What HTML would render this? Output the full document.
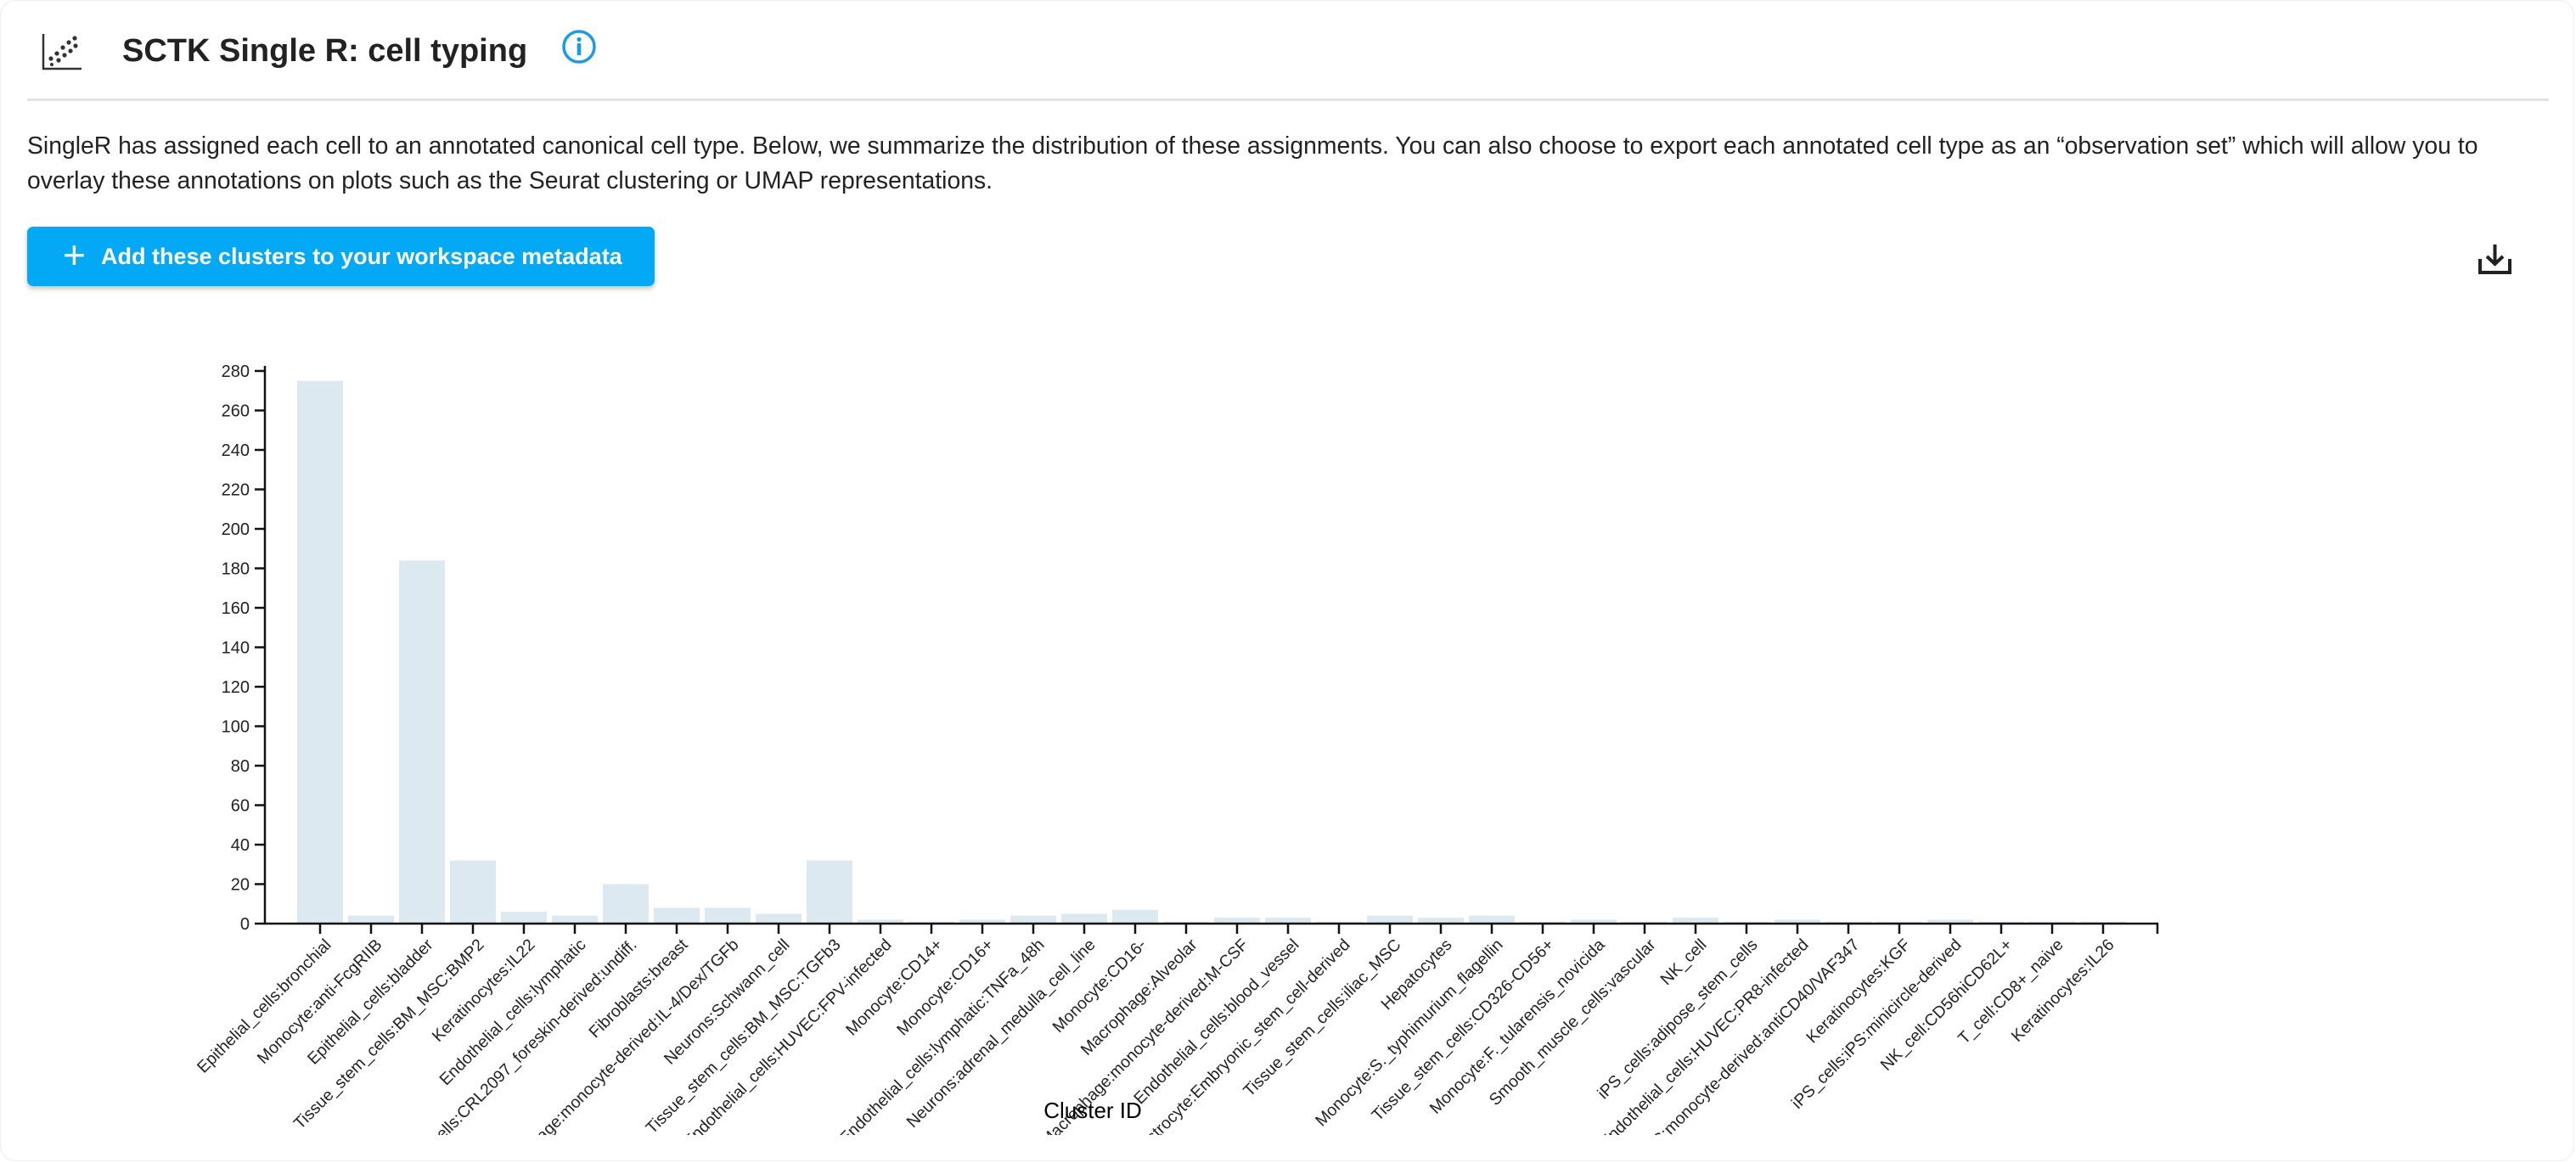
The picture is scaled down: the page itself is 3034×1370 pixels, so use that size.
<!DOCTYPE html>
<html><head><meta charset="utf-8"><style>
body{margin:0;width:3034px;height:1370px;background:#fff;font-family:"Liberation Sans",Arial,sans-serif;overflow:hidden;position:relative;color:#222}
.card{position:absolute;left:0;top:0;width:3032px;height:1368px;border:1px solid #eee;border-radius:18px;box-sizing:border-box}
.title{position:absolute;left:144px;top:39px;font-size:38px;font-weight:bold;color:#222}
.div{position:absolute;left:32px;top:116px;width:2970px;height:3px;background:#e2e2e2}
.para{position:absolute;left:32px;top:152px;width:2960px;font-size:28.35px;line-height:41px;color:#222;white-space:nowrap}
.btn{position:absolute;left:32px;top:267px;width:739px;height:70px;background:#03a9f4;border-radius:7px;box-shadow:0 3px 6px rgba(0,0,0,.25);color:#fff;font-weight:bold;font-size:27px;line-height:70px}
</style></head><body>
<div class="card"></div>
<svg style="position:absolute;left:48px;top:38px" width="50" height="46" viewBox="0 0 50 46">
<path d="M3 2 V43 H48" stroke="#333" stroke-width="2.5" fill="none"/>
<g fill="#333"><circle cx="40" cy="7" r="2.6"/><circle cx="33" cy="12" r="2.6"/><circle cx="41" cy="16" r="2.6"/><circle cx="26" cy="18" r="2.6"/><circle cx="35" cy="22" r="2.6"/><circle cx="19" cy="25" r="2.6"/><circle cx="28" cy="27" r="2.6"/><circle cx="12" cy="31" r="2.6"/><circle cx="21" cy="33" r="2.6"/><circle cx="13" cy="38" r="2"/></g></svg>
<div class="title">SCTK Single R: cell typing</div>
<svg style="position:absolute;left:661px;top:34px" width="42" height="42" viewBox="0 0 42 42">
<circle cx="21" cy="21" r="18" stroke="#1a9be8" stroke-width="3.5" fill="none"/><circle cx="21" cy="12.5" r="2.6" fill="#1a9be8"/><rect x="18.7" y="17" width="4.6" height="14" fill="#1a9be8"/></svg>
<div class="div"></div>
<div class="para">SingleR has assigned each cell to an annotated canonical cell type. Below, we summarize the distribution of these assignments. You can also choose to export each annotated cell type as an “observation set” which will allow you to<br>overlay these annotations on plots such as the Seurat clustering or UMAP representations.</div>
<div class="btn"><span style="position:absolute;left:42px;top:-2px;font-size:46px;font-weight:normal">+</span><span style="position:absolute;left:87px">Add these clusters to your workspace metadata</span></div>
<svg style="position:absolute;left:2918px;top:285px" width="42" height="40" viewBox="0 0 42 40">
<path d="M3 20 V36 H38 V20" stroke="#222" stroke-width="4" fill="none"/><path d="M20.5 3 V26 M11 17 L20.5 26 L30 17" stroke="#222" stroke-width="4" fill="none"/></svg>
<svg id="chart" style="position:absolute;left:0;top:0" width="3034" height="1337"></svg>
<script>
const categories=["Epithelial_cells:bronchial","Monocyte:anti-FcgRIIB","Epithelial_cells:bladder","Tissue_stem_cells:BM_MSC:BMP2","Keratinocytes:IL22","Endothelial_cells:lymphatic","iPS_cells:CRL2097_foreskin-derived:undiff.","Fibroblasts:breast","Macrophage:monocyte-derived:IL-4/Dex/TGFb","Neurons:Schwann_cell","Tissue_stem_cells:BM_MSC:TGFb3","Endothelial_cells:HUVEC:FPV-infected","Monocyte:CD14+","Monocyte:CD16+","Endothelial_cells:lymphatic:TNFa_48h","Neurons:adrenal_medulla_cell_line","Monocyte:CD16-","Macrophage:Alveolar","Macrophage:monocyte-derived:M-CSF","Endothelial_cells:blood_vessel","Astrocyte:Embryonic_stem_cell-derived","Tissue_stem_cells:iliac_MSC","Hepatocytes","Monocyte:S._typhimurium_flagellin","Tissue_stem_cells:CD326-CD56+","Monocyte:F._tularensis_novicida","Smooth_muscle_cells:vascular","NK_cell","iPS_cells:adipose_stem_cells","Endothelial_cells:HUVEC:PR8-infected","DC:monocyte-derived:antiCD40/VAF347","Keratinocytes:KGF","iPS_cells:iPS:minicircle-derived","NK_cell:CD56hiCD62L+","T_cell:CD8+_naive","Keratinocytes:IL26"];
const counts=[275,4,184,32,6,4,20,8,8,5,32,2,1,2,4,5,7,1,3,3,1,4,3,4,1,2,1,3,1,2,1,1,2,1,1,1];
const yTicks=[0,20,40,60,80,100,120,140,160,180,200,220,240,260,280];
const NS="http://www.w3.org/2000/svg";
const svg=document.getElementById('chart');
const X0=312,X1=2541,Y0=1088,Y280=437,firstC=377,step=60,bw=54;
const y=v=>Y0-(v/280)*(Y0-Y280);
const x=i=>firstC+i*step;
function mk(t,a){const e=document.createElementNS(NS,t);for(const k in a)e.setAttribute(k,a[k]);svg.appendChild(e);return e;}
counts.forEach((v,i)=>{
  const r=mk('rect',{x:x(i)-bw/2,y:y(v),width:bw,height:Y0-y(v),fill:'#dde9f1'});
  
  
});
const ax=mk('path',{d:`M${X0} ${Y280-6} V${Y0} H${X1} V${Y0+12}`,stroke:'#111','stroke-width':2.5,fill:'none'});


yTicks.forEach(t=>{
  mk('line',{x1:X0-12,x2:X0,y1:y(t),y2:y(t),stroke:'#111','stroke-width':2.5});
  const tx=mk('text',{x:X0-18,y:y(t)+7,'text-anchor':'end','font-size':20,fill:'#222'});
  tx.textContent=t;
  
  
});
categories.forEach((c,i)=>{
  mk('line',{x1:x(i),x2:x(i),y1:Y0,y2:Y0+12,stroke:'#111','stroke-width':2.5});
  const tx=mk('text',{transform:`translate(${x(i)+14},${Y0+26}) rotate(-45)`,'text-anchor':'end','font-size':19.5,fill:'#222'});
  tx.textContent=c;
  
  
});
const xl=mk('text',{x:1287,y:1317,'text-anchor':'middle','font-size':26,fill:'#000'});
xl.textContent='Cluster ID';


</script>
</body></html>
